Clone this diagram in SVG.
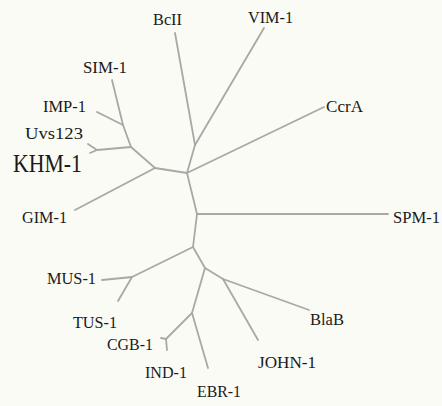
<svg xmlns="http://www.w3.org/2000/svg" width="442" height="406" viewBox="0 0 442 406">
<style>
.e{stroke:#a8a8a4;stroke-width:1.8;fill:none;stroke-linecap:round}
.t{font-family:"Liberation Serif","Noto Serif",serif;font-size:17px;fill:#1a1a1a}
.b{fill:#ffffff}
</style>
<rect width="442" height="406" fill="#fbfbf6"/>
<g id="connectors">
<line class="e" x1="187" y1="173" x2="195" y2="145"/>
<line class="e" x1="195" y1="145" x2="175" y2="33"/>
<line class="e" x1="195" y1="145" x2="264" y2="28"/>
<line class="e" x1="187" y1="173" x2="324" y2="107"/>
<line class="e" x1="187" y1="173" x2="155" y2="168"/>
<line class="e" x1="155" y1="168" x2="75" y2="210"/>
<line class="e" x1="155" y1="168" x2="131" y2="147"/>
<line class="e" x1="131" y1="147" x2="123" y2="125"/>
<line class="e" x1="123" y1="125" x2="112" y2="80"/>
<line class="e" x1="123" y1="125" x2="97" y2="112"/>
<line class="e" x1="131" y1="147" x2="97" y2="150"/>
<line class="e" x1="97" y1="150" x2="88" y2="144"/>
<line class="e" x1="97" y1="150" x2="90" y2="153"/>
<line class="e" x1="187" y1="173" x2="197" y2="214"/>
<line class="e" x1="197" y1="214" x2="388" y2="214"/>
<line class="e" x1="197" y1="214" x2="193" y2="247"/>
<line class="e" x1="193" y1="247" x2="132" y2="277"/>
<line class="e" x1="132" y1="277" x2="102" y2="280"/>
<line class="e" x1="132" y1="277" x2="118" y2="301"/>
<line class="e" x1="193" y1="247" x2="205" y2="268"/>
<line class="e" x1="205" y1="268" x2="223" y2="279"/>
<line class="e" x1="223" y1="279" x2="309" y2="310"/>
<line class="e" x1="223" y1="279" x2="258" y2="340"/>
<line class="e" x1="205" y1="268" x2="192" y2="313"/>
<line class="e" x1="192" y1="313" x2="208" y2="368"/>
<line class="e" x1="192" y1="313" x2="166" y2="339"/>
<line class="e" x1="166" y1="339" x2="161" y2="338"/>
<line class="e" x1="166" y1="339" x2="167" y2="350"/>
</g>
<g id="BcII"><text class="t" x="153" y="25" textLength="29" lengthAdjust="spacingAndGlyphs">BcII</text></g>
<g id="VIM-1"><text class="t" x="248" y="23" textLength="45" lengthAdjust="spacingAndGlyphs">VIM-1</text></g>
<g id="SIM-1"><text class="t" x="83" y="73" textLength="44" lengthAdjust="spacingAndGlyphs">SIM-1</text></g>
<g id="IMP-1"><text class="t" x="43" y="112" textLength="43" lengthAdjust="spacingAndGlyphs">IMP-1</text></g>
<g id="Uvs123"><text class="t" x="25" y="139" textLength="58" lengthAdjust="spacingAndGlyphs">Uvs123</text></g>
<g id="KHM-1"><text class="t" x="13" y="172" style="font-size:25px" textLength="69" lengthAdjust="spacingAndGlyphs">KHM-1</text></g>
<g id="CcrA"><text class="t" x="326" y="112" textLength="37" lengthAdjust="spacingAndGlyphs">CcrA</text></g>
<g id="GIM-1"><text class="t" x="22" y="223" textLength="45" lengthAdjust="spacingAndGlyphs">GIM-1</text></g>
<g id="SPM-1"><text class="t" x="393" y="223" textLength="47" lengthAdjust="spacingAndGlyphs">SPM-1</text></g>
<g id="MUS-1"><text class="t" x="47" y="284" textLength="49" lengthAdjust="spacingAndGlyphs">MUS-1</text></g>
<g id="TUS-1"><text class="t" x="73" y="328" textLength="44" lengthAdjust="spacingAndGlyphs">TUS-1</text></g>
<g id="CGB-1"><text class="t" x="107" y="350" textLength="46" lengthAdjust="spacingAndGlyphs">CGB-1</text></g>
<g id="IND-1"><text class="t" x="145" y="378" textLength="42" lengthAdjust="spacingAndGlyphs">IND-1</text></g>
<g id="EBR-1"><text class="t" x="197" y="397" textLength="44" lengthAdjust="spacingAndGlyphs">EBR-1</text></g>
<g id="BlaB"><text class="t" x="310" y="325" textLength="34" lengthAdjust="spacingAndGlyphs">BlaB</text></g>
<g id="JOHN-1"><text class="t" x="258" y="368" textLength="58" lengthAdjust="spacingAndGlyphs">JOHN-1</text></g>
</svg>
